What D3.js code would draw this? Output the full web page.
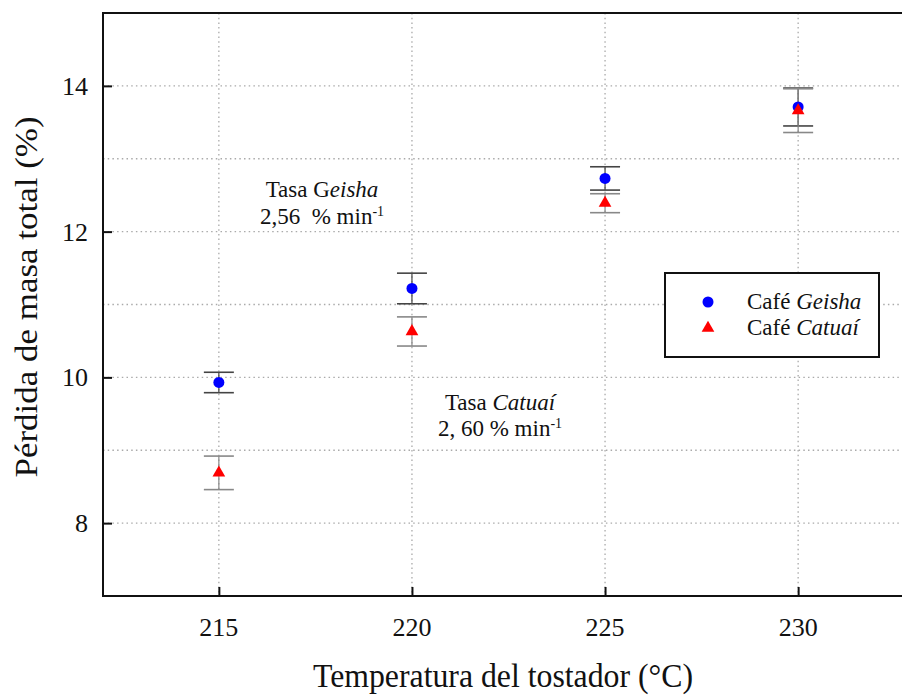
<!DOCTYPE html>
<html>
<head>
<meta charset="utf-8">
<script src="https://cdn.jsdelivr.net/npm/d3@7"></script>
<style>
  body { margin: 0; background: #fff; }
  svg text { font-family: "Liberation Serif", "Times New Roman", serif; fill: #111; }
</style>
</head>
<body>
<div id="chart"></div>
<script>
// temperatures and values
var temps = [215, 220, 225, 230];
var geisha = [9.93, 11.22, 12.73, 13.71];
var geishaErr = [0.14, 0.21, 0.16, 0.26];
var catuai = [8.69, 10.63, 12.39, 13.66];
var catuaiErr = [0.23, 0.20, 0.13, 0.30];
var yTicks = [8, 10, 12, 14];
var yGrid = [8, 9, 10, 11, 12, 13, 14];

var width = 902, height = 696;
var mLeft = 103, mTop = 13, mBottom = 596, mRight = 914;

var svg = d3.select("#chart").append("svg")
  .attr("width", width).attr("height", height);

var x = d3.scaleLinear().domain([212, 233]).range([mLeft, mRight]);
var y = d3.scaleLinear().domain([7, 15]).range([mBottom, mTop]);

// dotted grid
svg.selectAll(".hgrid").data(yGrid).enter().append("line")
  .attr("x1", mLeft).attr("x2", mRight)
  .attr("y1", function(d){ return y(d); }).attr("y2", function(d){ return y(d); })
  .style("stroke", "#aaa").style("stroke-width", 1.3).style("stroke-dasharray", "1.5,3.2");
svg.selectAll(".vgrid").data(temps).enter().append("line")
  .attr("y1", mTop).attr("y2", mBottom)
  .attr("x1", function(d){ return x(d); }).attr("x2", function(d){ return x(d); })
  .style("stroke", "#aaa").style("stroke-width", 1.3).style("stroke-dasharray", "1.5,3.2");

// axes with inward ticks
var yAxis = svg.append("g").attr("transform", "translate(" + mLeft + ",0)")
  .call(d3.axisRight(y).tickValues(yTicks).tickSize(9).tickFormat(""));
var xAxis = svg.append("g").attr("transform", "translate(0," + mBottom + ")")
  .call(d3.axisTop(x).tickValues(temps).tickSize(9).tickFormat(""));
[yAxis, xAxis].forEach(function(a){
  a.select(".domain").remove();
  a.selectAll(".tick line").style("stroke", "#111").style("stroke-width", 2);
});

// frame (right side is off the page)
svg.append("path")
  .attr("d", "M" + mRight + "," + mTop + "H" + mLeft + "V" + mBottom + "H" + mRight)
  .style("fill", "none").style("stroke", "#111").style("stroke-width", 2);

// tick labels
svg.selectAll(".ylab").data(yTicks).enter().append("text")
  .attr("x", 88).attr("y", function(d){ return y(d) + 9; })
  .attr("text-anchor", "end").style("font-size", "26px")
  .text(function(d){ return d; });
svg.selectAll(".xlab").data(temps).enter().append("text")
  .attr("x", function(d){ return x(d); }).attr("y", 636)
  .attr("text-anchor", "middle").style("font-size", "26px")
  .text(function(d){ return d; });

// axis titles
svg.append("text").attr("x", 503).attr("y", 687)
  .attr("text-anchor", "middle").style("font-size", "33px")
  .attr("textLength", 380).attr("lengthAdjust", "spacingAndGlyphs")
  .text("Temperatura del tostador (°C)");
svg.append("text")
  .attr("transform", "translate(37,297) rotate(-90)")
  .attr("text-anchor", "middle").style("font-size", "32px")
  .attr("textLength", 361).attr("lengthAdjust", "spacingAndGlyphs")
  .text("Pérdida de masa total (%)");

// error bars
function errorBars(vals, errs, color) {
  var g = svg.append("g");
  temps.forEach(function(t, i){
    var cx = x(t), lo = y(vals[i] - errs[i]), hi = y(vals[i] + errs[i]);
    g.append("line").attr("x1", cx).attr("x2", cx).attr("y1", lo).attr("y2", hi)
      .style("stroke", color).style("stroke-width", 1.2);
    [lo, hi].forEach(function(yy){
      g.append("line").attr("x1", cx - 15).attr("x2", cx + 15).attr("y1", yy).attr("y2", yy)
        .style("stroke", color).style("stroke-width", 1.6);
    });
  });
}
errorBars(geisha, geishaErr, "#444");
errorBars(catuai, catuaiErr, "#888");

// markers
var tri = d3.symbol().type(d3.symbolTriangle).size(70);
svg.selectAll(".geisha").data(temps).enter().append("circle")
  .attr("cx", function(d){ return x(d); })
  .attr("cy", function(d, i){ return y(geisha[i]); })
  .attr("r", 5.5).style("fill", "#0000ff");
svg.selectAll(".catuai").data(temps).enter().append("path")
  .attr("d", tri)
  .attr("transform", function(d, i){ return "translate(" + x(d) + "," + y(catuai[i]) + ")"; })
  .style("fill", "#ff0000");

// annotations
var a1 = svg.append("text").attr("x", 322).attr("y", 197)
  .attr("text-anchor", "middle").style("font-size", "23px");
a1.append("tspan").text("Tasa G");
a1.append("tspan").style("font-style", "italic").text("eisha");
var a1b = svg.append("text").attr("x", 322).attr("y", 224)
  .attr("text-anchor", "middle").style("font-size", "23px")
  .style("white-space", "pre");
a1b.append("tspan").text("2,56  % min");
a1b.append("tspan").attr("dy", -8).style("font-size", "14px").text("-1");

var a2 = svg.append("text").attr("x", 500).attr("y", 410)
  .attr("text-anchor", "middle").style("font-size", "23px");
a2.append("tspan").text("Tasa ");
a2.append("tspan").style("font-style", "italic").text("Catuaí");
var a2b = svg.append("text").attr("x", 500).attr("y", 436)
  .attr("text-anchor", "middle").style("font-size", "23px");
a2b.append("tspan").text("2, 60 % min");
a2b.append("tspan").attr("dy", -8).style("font-size", "14px").text("-1");

// legend
var leg = svg.append("g");
leg.append("rect").attr("x", 665).attr("y", 273).attr("width", 214).attr("height", 84)
  .style("fill", "#fff").style("stroke", "#111").style("stroke-width", 2);
leg.append("circle").attr("cx", 708).attr("cy", 302).attr("r", 5.5).style("fill", "#0000ff");
leg.append("path").attr("d", tri).attr("transform", "translate(708,328)").style("fill", "#ff0000");
var l1 = leg.append("text").attr("x", 747).attr("y", 309).style("font-size", "23px");
l1.append("tspan").text("Café ");
l1.append("tspan").style("font-style", "italic").text("Geisha");
var l2 = leg.append("text").attr("x", 747).attr("y", 335).style("font-size", "23px");
l2.append("tspan").text("Café ");
l2.append("tspan").style("font-style", "italic").text("Catuaí");
</script>
</body>
</html>
